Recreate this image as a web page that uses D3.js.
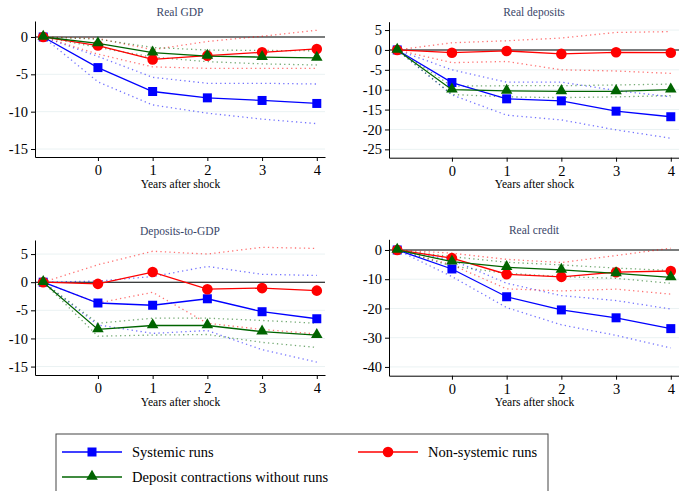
<!DOCTYPE html>
<html>
<head>
<meta charset="utf-8">
<script src="https://cdn.jsdelivr.net/npm/d3@7"></script>
<style>
  body { margin: 0; background: #fff; }
  svg { display: block; font-family: "Liberation Serif", serif; }
</style>
</head>
<body>
<svg id="chart" width="679" height="491"></svg>
<script>
// years relative to the shock
const years = [-1, 0, 1, 2, 3, 4];
const xTicks = [0, 1, 2, 3, 4];

// Real GDP
const gdpSys   = [0, -4.1, -7.3, -8.15, -8.5, -8.9];
const gdpSysLo = [0, -6.0, -9.1, -10.2, -11.0, -11.6];
const gdpSysHi = [0, -2.6, -5.4, -6.2, -6.2, -6.3];
const gdpNon   = [0, -1.15, -3.0, -2.5, -2.05, -1.6];
const gdpNonLo = [0, -2.3, -4.0, -4.2, -4.2, -4.2];
const gdpNonHi = [0, -0.2, -1.7, -0.6, 0.1, 0.9];
const gdpCon   = [0, -0.85, -2.1, -2.55, -2.7, -2.8];
const gdpConLo = [0, -1.4, -2.7, -3.3, -3.6, -3.75];
const gdpConHi = [0, -0.3, -1.4, -1.75, -1.8, -1.85];

// Real deposits
const depSys   = [0, -8.2, -12.3, -12.8, -15.4, -16.8];
const depSysLo = [0, -11.3, -16.4, -17.6, -20.1, -22.2];
const depSysHi = [0, -5.0, -8.1, -8.1, -10.2, -11.8];
const depNon   = [0, -0.7, -0.25, -1.0, -0.6, -0.7];
const depNonLo = [0, -3.2, -2.9, -5.0, -5.3, -5.9];
const depNonHi = [0, 1.8, 2.3, 3.0, 4.4, 4.6];
const depCon   = [0, -10.0, -10.3, -10.4, -10.4, -10.0];
const depConLo = [0, -11.2, -11.8, -12.0, -11.8, -11.5];
const depConHi = [0, -9.1, -9.0, -9.0, -8.8, -8.6];

// Deposits-to-GDP
const ratSys   = [0, -3.7, -4.1, -2.95, -5.25, -6.5];
const ratSysLo = [0, -7.6, -9.1, -8.6, -12.0, -14.2];
const ratSysHi = [0, 0.2, 1.0, 2.8, 1.4, 1.2];
const ratNon   = [0, -0.3, 1.8, -1.25, -1.05, -1.5];
const ratNonLo = [0, -3.7, -1.8, -7.3, -8.4, -9.2];
const ratNonHi = [0, 3.1, 5.5, 5.0, 6.2, 6.0];
const ratCon   = [0, -8.4, -7.7, -7.7, -8.8, -9.4];
const ratConLo = [0, -9.6, -9.4, -9.3, -10.7, -11.6];
const ratConHi = [0, -7.3, -6.4, -6.4, -6.8, -7.3];

// Real credit
const creSys   = [0, -6.5, -16.0, -20.5, -23.2, -26.9];
const creSysLo = [0, -9.1, -19.7, -25.6, -29.2, -33.5];
const creSysHi = [0, -3.4, -11.4, -15.6, -17.3, -20.2];
const creNon   = [0, -2.8, -8.3, -9.2, -7.6, -7.2];
const creNonLo = [0, -5.1, -13.3, -14.0, -13.4, -15.1];
const creNonHi = [0, -1.1, -3.2, -4.3, -1.9, 0.6];
const creCon   = [0, -4.0, -5.9, -6.8, -8.0, -9.4];
const creConLo = [0, -5.5, -8.0, -9.1, -9.7, -11.4];
const creConHi = [0, -2.3, -4.2, -5.1, -6.2, -7.0];

const titles = ["Real GDP", "Real deposits", "Deposits-to-GDP", "Real credit"];
const yTicks = [
  [0, -5, -10, -15],
  [5, 0, -5, -10, -15, -20, -25],
  [5, 0, -5, -10, -15],
  [0, -10, -20, -30, -40]
];
const yDomains = [[-16.07, 2.14], [-27.1, 7.1], [-16.5, 7.5], [-43, 3.65]];
const seriesNames = ["Systemic runs", "Non-systemic runs", "Deposit contractions without runs"];
const seriesColors = ["#0000ff", "#ff0000", "#006400"];

const panelData = [
  [[gdpSys, gdpSysLo, gdpSysHi], [gdpNon, gdpNonLo, gdpNonHi], [gdpCon, gdpConLo, gdpConHi]],
  [[depSys, depSysLo, depSysHi], [depNon, depNonLo, depNonHi], [depCon, depConLo, depConHi]],
  [[ratSys, ratSysLo, ratSysHi], [ratNon, ratNonLo, ratNonHi], [ratCon, ratConLo, ratConHi]],
  [[creSys, creSysLo, creSysHi], [creNon, creNonLo, creNonHi], [creCon, creConLo, creConHi]]
];

// panel frames (left, right, top, bottom) in px
const frames = [
  {x0: 35,  x1: 325, y0: 21,    y1: 157},
  {x0: 389, x1: 679, y0: 21.7,  y1: 157.7},
  {x0: 35,  x1: 325, y0: 240,   y1: 375},
  {x0: 389, x1: 679, y0: 239.3, y1: 375.7}
];

const svg = d3.select("#chart");

function marker(g, type, x, y, color) {
  if (type == 0) {
    g.append("rect").attr("x", x - 4.5).attr("y", y - 4.5)
      .attr("width", 9).attr("height", 9).attr("fill", color);
  } else if (type == 1) {
    g.append("circle").attr("cx", x).attr("cy", y).attr("r", 5.3).attr("fill", color);
  } else {
    g.append("path")
      .attr("d", d3.symbol().type(d3.symbolTriangle).size(58)())
      .attr("transform", "translate(" + x + "," + (y - 0.5) + ")")
      .attr("fill", color);
  }
}

frames.forEach((f, i) => {
  let g = svg.append("g");

  let x = d3.scaleLinear().domain([-1.15, 4.15]).range([f.x0, f.x1]);
  let y = d3.scaleLinear().domain(yDomains[i]).range([f.y1, f.y0]);

  // grid lines
  g.selectAll(".grid")
    .data(yTicks[i])
    .join("line")
    .attr("x1", f.x0).attr("x2", f.x1)
    .attr("y1", d => y(d)).attr("y2", d => y(d))
    .attr("stroke", "#eaf2f3").attr("stroke-width", 1);

  // zero line
  g.append("line")
    .attr("x1", f.x0).attr("x2", f.x1)
    .attr("y1", y(0)).attr("y2", y(0))
    .attr("stroke", "#000").attr("stroke-width", 1.1);

  // axes
  let yAxis = g.append("g")
    .attr("transform", "translate(" + f.x0 + ",0)")
    .call(d3.axisLeft(y).tickValues(yTicks[i]).tickSize(4).tickPadding(3).tickSizeOuter(0)
      .tickFormat(d => d < 0 ? "-" + Math.abs(d) : d));
  let xAxis = g.append("g")
    .attr("transform", "translate(0," + f.y1 + ")")
    .call(d3.axisBottom(x).tickValues(xTicks).tickSize(4).tickPadding(4).tickSizeOuter(0)
      .tickFormat(d3.format("d")));
  [xAxis, yAxis].forEach(a => {
    a.select(".domain").attr("stroke", "#000").attr("stroke-width", 1);
    a.selectAll(".tick line").attr("stroke", "#000");
    a.selectAll("text").attr("font-family", "Liberation Serif").attr("font-size", 14.5).attr("fill", "#000");
  });

  // x title
  g.append("text")
    .attr("x", (x(-1) + x(4)) / 2 + 0.5)
    .attr("y", f.y1 + 30.5)
    .attr("text-anchor", "middle")
    .attr("font-size", 11.5)
    .text("Years after shock");

  // panel title
  g.append("text")
    .attr("x", (f.x0 + f.x1) / 2)
    .attr("y", f.y0 - 5.5)
    .attr("text-anchor", "middle")
    .attr("font-size", 11.5)
    .attr("fill", "#3a4668")
    .text(titles[i]);

  let line = d3.line().x((d, k) => x(years[k])).y(d => y(d));

  // confidence bands (dotted)
  panelData[i].forEach((s, j) => {
    [s[1], s[2]].forEach(b => {
      g.append("path")
        .attr("d", line(b))
        .attr("fill", "none")
        .attr("stroke", seriesColors[j])
        .attr("stroke-opacity", 0.55)
        .attr("stroke-width", 1.3)
        .attr("stroke-dasharray", "1.3,3.2");
    });
  });

  // point estimates
  panelData[i].forEach((s, j) => {
    g.append("path")
      .attr("d", line(s[0]))
      .attr("fill", "none")
      .attr("stroke", seriesColors[j])
      .attr("stroke-width", 1.3);
    s[0].forEach((v, k) => marker(g, j, x(years[k]), y(v), seriesColors[j]));
  });
});

// legend
let lg = svg.append("g");
lg.append("rect")
  .attr("x", 56).attr("y", 434)
  .attr("width", 492).attr("height", 70)
  .attr("fill", "#fff").attr("stroke", "#444").attr("stroke-width", 1);

const legendPos = [
  {x: 62, y: 452}, {x: 358, y: 452}, {x: 62, y: 477}
];
seriesNames.forEach((name, j) => {
  let p = legendPos[j];
  lg.append("line")
    .attr("x1", p.x).attr("x2", p.x + 60)
    .attr("y1", p.y).attr("y2", p.y)
    .attr("stroke", seriesColors[j]).attr("stroke-width", 1.3);
  marker(lg, j, p.x + 30, p.y, seriesColors[j]);
  lg.append("text")
    .attr("x", p.x + 70)
    .attr("y", p.y + 4.5)
    .attr("font-size", 14.5)
    .text(name);
});
</script>
</body>
</html>
